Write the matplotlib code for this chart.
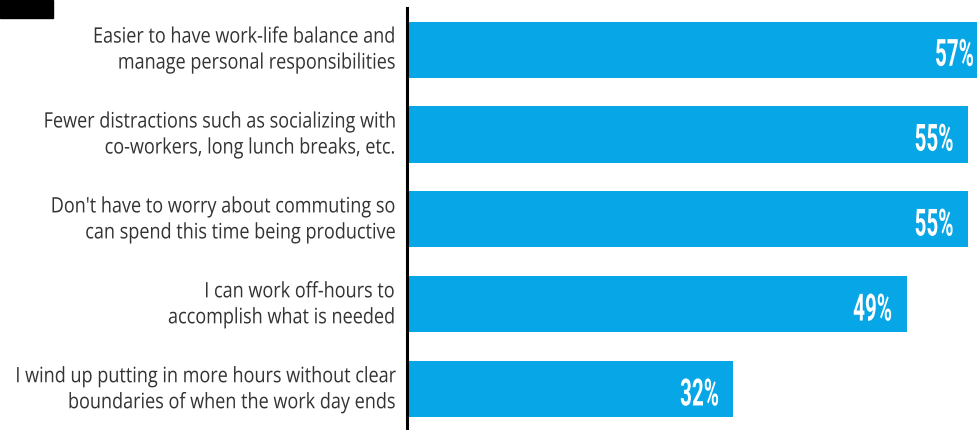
import matplotlib
matplotlib.use("Agg")
import matplotlib.pyplot as plt
from matplotlib.patches import Rectangle
from matplotlib.patheffects import AbstractPathEffect
from matplotlib.transforms import Affine2D

# Survey answers (top to bottom) and share of respondents, in percent
reasons = [
    "Easier to have work-life balance and\nmanage personal responsibilities",
    "Fewer distractions such as socializing with\nco-workers, long lunch breaks, etc.",
    "Don't have to worry about commuting so\ncan spend this time being productive",
    "I can work off-hours to\naccomplish what is needed",
    "I wind up putting in more hours without clear\nboundaries of when the work day ends",
]
shares = [57, 55, 55, 49, 32]

BAR_COLOR = "#07A7E7"
LABEL_COLOR = "#333333"


class Stretch(AbstractPathEffect):
    """Rescale glyphs about their right edge and baseline."""

    def __init__(self, sx=1.0, sy=1.0):
        super().__init__()
        self.sx, self.sy = sx, sy

    def draw_path(self, renderer, gc, tpath, affine, rgbFace=None):
        xmax = tpath.vertices[:, 0].max() if len(tpath.vertices) else 0.0
        t = Affine2D().translate(-xmax, 0).scale(self.sx, self.sy).translate(xmax, 0)
        renderer.draw_path(gc, tpath, t + affine, rgbFace)


W, H = 977, 430
DPI = 100
PX = 72 / DPI  # points per pixel
fig = plt.figure(figsize=(W / DPI, H / DPI), dpi=DPI)
fig.patch.set_facecolor("white")

# plotting area: starts at the vertical axis line, runs to the right edge
ax_left = 407 / W
ax_top = 1 - 8 / H
ax = fig.add_axes([ax_left, 0, 1 - ax_left, ax_top])

pos = list(range(len(reasons)))
ax.barh(pos, shares, height=0.66, color=BAR_COLOR, zorder=2)

px_per_unit = 10.2
ax.set_xlim(0, (W - 407) / px_per_unit)
ax.set_ylim(4.48, -0.49)

# value labels inside the bar ends
for y, v in zip(pos, shares):
    ax.text(v - 1.35, y + 0.02, f"{v}%", ha="right", va="center_baseline",
            color="white", fontsize=27, fontweight="bold", family="Roboto",
            path_effects=[Stretch(sx=0.55)], zorder=3)

# category labels to the left of the axis line
for y, txt in zip(pos, reasons):
    ax.annotate(txt, xy=(0, y), xycoords=("axes fraction", "data"),
                xytext=(-13 * PX, -1 * PX), textcoords="offset points",
                ha="right", va="center", multialignment="right",
                family="Open Sans", fontsize=13.0, color=LABEL_COLOR,
                linespacing=1.57, path_effects=[Stretch(sy=1.18)],
                annotation_clip=False)

ax.set_yticks([])
ax.set_xticks([])

for side in ("top", "right", "bottom"):
    ax.spines[side].set_visible(False)
ax.spines["left"].set_linewidth(2.2)
ax.spines["left"].set_color("black")
ax.set_facecolor("none")

# small black block in the top-left corner
fig.patches.append(Rectangle((0, 1 - 18 / H), 53 / W, 18 / H,
                             transform=fig.transFigure, color="black"))

fig.savefig("out.png", dpi=DPI)
